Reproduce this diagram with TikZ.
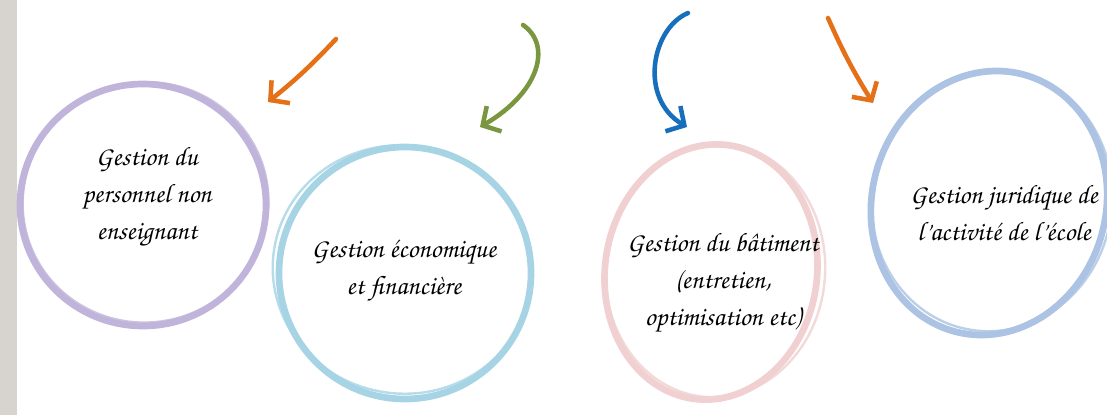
\documentclass[tikz,border=0pt]{standalone}
\usepackage[T1,TU]{fontenc}
\usetikzlibrary{arrows.meta}
\definecolor{lavande}{RGB}{192,180,218}
\definecolor{ciel}{RGB}{166,212,228}
\definecolor{rosepale}{RGB}{240,208,208}
\definecolor{bleupale}{RGB}{172,195,227}
\definecolor{orange}{RGB}{228,112,24}
\definecolor{olive}{RGB}{122,150,62}
\definecolor{bleu}{RGB}{22,110,188}
\definecolor{marge}{RGB}{215,212,208}
\newcommand\plume{\fontencoding{T1}\fontfamily{pzc}\fontseries{mb}\fontshape{it}\selectfont}
\tikzset{
  ring/.style={line width=5pt, line cap=round},
  trait/.style={line width=1.8pt, line cap=round, opacity=.8},
  fleche/.style={line width=3.4pt, line cap=round, line join=round,
    -{Straight Barb[length=10pt,width=22pt,line width=3.4pt]}},
  intitule/.style={align=center, font=\plume\fontsize{20}{28}\selectfont},
}
\begin{document}
\begin{tikzpicture}[x=0.75pt,y=-0.75pt]
  \useasboundingbox (0,0) rectangle (1107,415);
  \clip (0,0) rectangle (1107,415);
  \fill[white] (0,0) rectangle (1107,415);
  \fill[marge] (0,0) rectangle (17,415);

  % cercles
  \draw[ring, lavande] (143,205) ellipse [x radius=123, y radius=121];
  \draw[trait, lavande, rotate around={12:(143,205)}] (146,203) ellipse [x radius=123, y radius=120];
  \draw[ring, ciel] (405,273) ellipse [x radius=126, y radius=126];
  \draw[trait, ciel, rotate around={-10:(405,273)}] (402,270) ellipse [x radius=130, y radius=124];
  \draw[ring, rosepale, rotate around={-8:(711,272)}] (711,272) ellipse [x radius=106, y radius=128];
  \draw[trait, rosepale, rotate around={-4:(711,272)}] (715,270) ellipse [x radius=110, y radius=127];
  \draw[ring, bleupale, rotate around={-15:(989,203)}] (989,203) ellipse [x radius=117, y radius=133];
  \draw[trait, bleupale, rotate around={-10:(989,200)}] (992,200) ellipse [x radius=120, y radius=131];

  % textes
  \node[intitule] (perso) at (147,197) {Gestion du\\personnel non\\enseignant};
  \node[intitule] (eco) at (404,271) {Gestion \'economique\\et financi\`ere};
  \node[intitule] (bati) at (723,283) {Gestion du b\^atiment\\(entretien,\\optimisation etc)};
  \node[intitule] (juri) at (1004,213) {Gestion juridique de\\l'activit\'e de l'\'ecole};

  % fleches
  \coordinate (d1) at (336,39);
  \coordinate (f1) at (268,102);
  \coordinate (d2) at (523,25);
  \coordinate (f2) at (480,127);
  \coordinate (d3) at (688,13);
  \coordinate (f3) at (687,127);
  \coordinate (d4) at (828,18);
  \coordinate (f4) at (873,103);
  \draw[fleche, orange] (d1) to[bend left=4] (f1);
  \draw[fleche, olive] (d2) .. controls (552,45) and (540,92) .. (f2);
  \draw[fleche, bleu] (d3) .. controls (652,28) and (638,98) .. (f3);
  \draw[fleche, orange] (d4) to[bend right=4] (f4);
\end{tikzpicture}
\end{document}
